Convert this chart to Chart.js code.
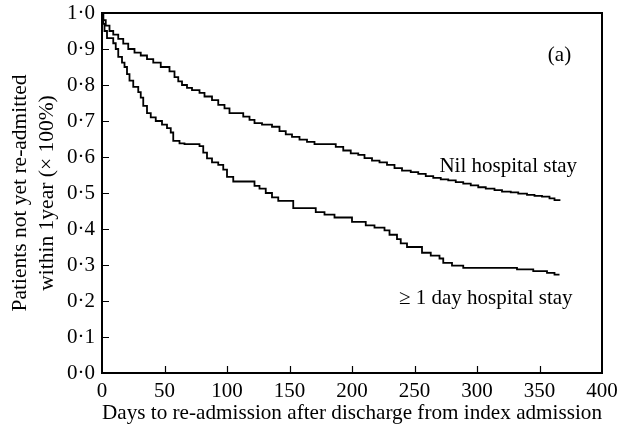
<!DOCTYPE html>
<html>
<head>
<meta charset="utf-8">
<script src="https://cdn.jsdelivr.net/npm/chart.js@4.4.1/dist/chart.umd.min.js"></script>
<style>
  html, body { margin: 0; padding: 0; background: #fff; }
  #wrap { width: 617px; height: 435px; }
</style>
</head>
<body>
<div id="wrap"><canvas id="kmChart" width="617" height="435"></canvas></div>
<script>
// Kaplan-Meier curves: day of each drop and the survival after it
const nilDays = [0, 1, 3, 6, 9, 13, 17, 21, 26, 31, 36, 41, 47, 54, 58, 61, 64, 68, 72, 78, 82, 88, 93, 98, 102, 113, 118, 122, 128, 136, 142, 147, 152, 158, 164, 170, 187, 193, 199, 205, 210, 216, 222, 228, 234, 240, 247, 253, 259, 265, 271, 277, 283, 289, 295, 301, 307, 314, 320, 327, 333, 340, 346, 352, 358, 362, 366];
const nilSurv = [1.0, 0.98, 0.965, 0.95, 0.94, 0.928, 0.915, 0.9, 0.89, 0.882, 0.872, 0.862, 0.85, 0.838, 0.822, 0.81, 0.8, 0.792, 0.786, 0.778, 0.768, 0.758, 0.745, 0.735, 0.722, 0.712, 0.703, 0.694, 0.69, 0.684, 0.672, 0.663, 0.656, 0.648, 0.642, 0.636, 0.628, 0.618, 0.61, 0.606, 0.597, 0.59, 0.585, 0.578, 0.569, 0.562, 0.558, 0.553, 0.547, 0.542, 0.538, 0.535, 0.53, 0.526, 0.521, 0.516, 0.512, 0.508, 0.504, 0.502, 0.498, 0.495, 0.492, 0.49, 0.485, 0.48, 0.478];

const stayDays = [0, 1, 2, 4, 9, 11, 13, 16, 18, 20, 22, 25, 29, 31, 33, 36, 39, 43, 48, 52, 55, 57, 62, 66, 78, 81, 84, 88, 93, 97, 100, 105, 122, 126, 131, 136, 141, 153, 171, 178, 186, 200, 211, 218, 226, 230, 236, 239, 244, 256, 263, 270, 273, 280, 289, 332, 345, 356, 362, 366];
const staySurv = [1.0, 0.97, 0.95, 0.93, 0.916, 0.9, 0.878, 0.862, 0.85, 0.83, 0.812, 0.795, 0.78, 0.765, 0.742, 0.722, 0.71, 0.7, 0.69, 0.68, 0.668, 0.645, 0.638, 0.636, 0.63, 0.612, 0.596, 0.585, 0.578, 0.565, 0.545, 0.532, 0.52, 0.512, 0.5, 0.488, 0.478, 0.458, 0.447, 0.44, 0.432, 0.42, 0.41, 0.404, 0.396, 0.384, 0.372, 0.36, 0.35, 0.334, 0.326, 0.318, 0.306, 0.298, 0.292, 0.288, 0.283, 0.278, 0.273, 0.273];

const xTicks = [0, 50, 100, 150, 200, 250, 300, 350, 400];
const yTicks = [0, 0.1, 0.2, 0.3, 0.4, 0.5, 0.6, 0.7, 0.8, 0.9, 1.0];

// curve labels: [text, day, survival]
const curveNotes = [
  ['(a)', 366, 0.883],
  ['Nil hospital stay', 325, 0.575],
  ['\u2265 1 day hospital stay', 307, 0.208]
];

const serif = "'Liberation Serif', 'Times New Roman', serif";

const toPoints = (xs, ys) => xs.map((d, i) => ({ x: d, y: ys[i] }));

// box round the plot, inward tick marks and the curve labels
const framePlugin = {
  id: 'frame',
  afterDraw(chart) {
    const { ctx, chartArea: a, scales: { x, y } } = chart;
    ctx.save();
    ctx.strokeStyle = '#000';
    ctx.lineWidth = 1.2;
    ctx.beginPath();
    xTicks.slice(1, -1).forEach(t => {
      const px = Math.round(x.getPixelForValue(t)) + 0.5;
      ctx.moveTo(px, a.bottom);
      ctx.lineTo(px, a.bottom - 7);
    });
    yTicks.slice(1, -1).forEach(t => {
      const py = Math.round(y.getPixelForValue(t)) + 0.5;
      ctx.moveTo(a.left, py);
      ctx.lineTo(a.left + 7, py);
    });
    ctx.stroke();

    ctx.lineWidth = 2;
    ctx.strokeRect(a.left, a.top, a.right - a.left, a.bottom - a.top);

    ctx.fillStyle = '#000';
    ctx.font = '21px ' + serif;
    ctx.textAlign = 'center';
    ctx.textBaseline = 'middle';
    curveNotes.forEach(([txt, d, s]) => {
      ctx.fillText(txt, x.getPixelForValue(d), y.getPixelForValue(s));
    });
    ctx.restore();
  }
};

const ctx = document.getElementById('kmChart').getContext('2d');
const kmChart = new Chart(ctx, {
  type: 'line',
  data: {
    datasets: [{
      label: 'Nil hospital stay',
      data: toPoints(nilDays, nilSurv),
      borderColor: '#000',
      borderWidth: 1.8,
      stepped: true,
      pointRadius: 0,
      fill: false
    }, {
      label: '\u2265 1 day hospital stay',
      data: toPoints(stayDays, staySurv),
      borderColor: '#000',
      borderWidth: 1.8,
      stepped: true,
      pointRadius: 0,
      fill: false
    }]
  },
  options: {
    responsive: false,
    maintainAspectRatio: false,
    animation: false,
    layout: { padding: { top: 13, right: 15, left: 0, bottom: 0 } },
    plugins: {
      legend: { display: false },
      tooltip: { enabled: false }
    },
    scales: {
      x: {
        type: 'linear',
        min: 0,
        max: 400,
        afterFit: s => { s.height = 62; s.paddingLeft = 0; s.paddingRight = 0; },
        afterBuildTicks: s => { s.ticks = xTicks.map(v => ({ value: v })); },
        grid: { display: false, drawTicks: false },
        border: { display: false },
        ticks: {
          color: '#000',
          padding: 6,
          maxRotation: 0,
          font: { family: serif, size: 21 }
        },
        title: {
          display: true,
          text: 'Days to re-admission after discharge from index admission',
          color: '#000',
          font: { family: serif, size: 21.5 },
          padding: { top: 0, bottom: 9 }
        }
      },
      y: {
        min: 0,
        max: 1,
        afterFit: s => { s.width = 102; s.paddingTop = 0; s.paddingBottom = 0; },
        afterBuildTicks: s => { s.ticks = yTicks.map(v => ({ value: v })); },
        grid: { display: false, drawTicks: false },
        border: { display: false },
        ticks: {
          color: '#000',
          padding: 7,
          font: { family: serif, size: 21 },
          callback: v => v.toFixed(1).replace('.', '\u00b7')
        },
        title: {
          display: true,
          text: ['Patients not yet re-admitted', 'within 1year (\u00d7 100%)'],
          color: '#000',
          font: { family: serif, size: 21.5, lineHeight: 1.25 },
          padding: { top: 7, bottom: 0 }
        }
      }
    }
  },
  plugins: [framePlugin]
});
</script>
</body>
</html>
